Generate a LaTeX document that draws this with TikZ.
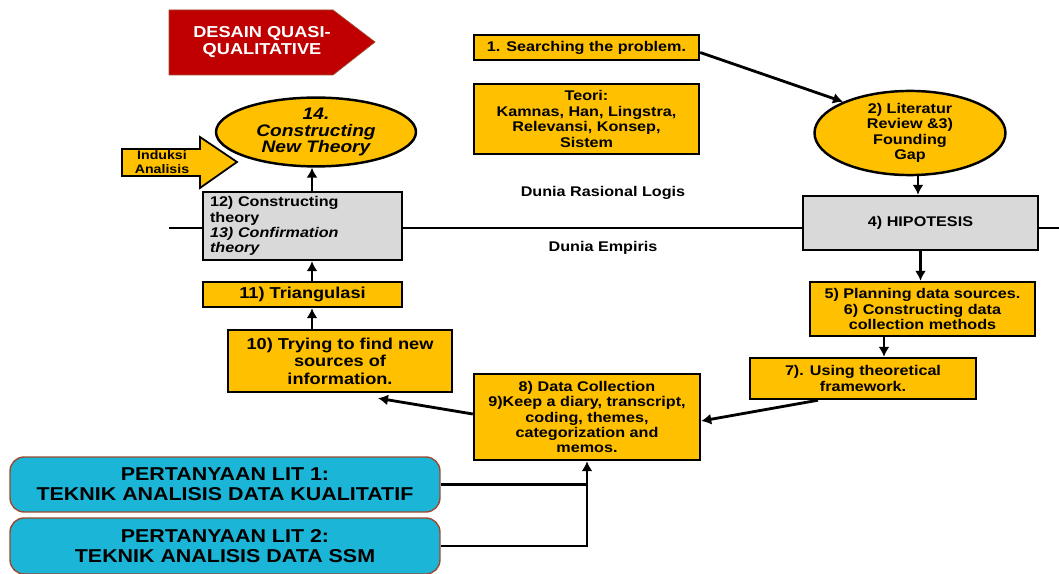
\documentclass[tikz,border=0pt]{standalone}
\usepackage{fontspec}
\setmainfont{Liberation Sans}[FakeStretch=1.15]
\usetikzlibrary{arrows.meta}
\usetikzlibrary{shapes.geometric}
\definecolor{kuning}{HTML}{FFC000}
\definecolor{abu}{HTML}{D9D9D9}
\definecolor{merah}{HTML}{C00000}
\definecolor{biru}{HTML}{1BB6D7}
\definecolor{coklat}{HTML}{9C4A2F}

\begin{document}
\begin{tikzpicture}[x=0.02cm, y=-0.02cm, >={Latex[length=2mm,width=2.2mm]},
	kotak/.style={draw, line width=1.4pt, fill=kuning, align=center, inner sep=1pt,
		font=\fontsize{8}{8.8}\selectfont\bfseries},
	kotakabu/.style={kotak, fill=abu},
	elips/.style={kotak, ellipse, inner sep=0pt},
	tanya/.style={draw=coklat, line width=0.8pt, fill=biru, rounded corners=8pt, align=center,
		minimum width=8.6cm, font=\fontsize{10.6}{11.4}\selectfont\bfseries},
	panah/.style={line width=1.6pt, ->},
	label/.style={font=\fontsize{8}{9}\selectfont\bfseries}]
	\useasboundingbox (0,0) rectangle (1059,574);
	%\draw[step=1cm,gray,very thin] (0,0) grid (1059,574);

	% garis pemisah dunia
	\draw[line width=1pt] (169,228) -- (1059,228);
	\node[label] (rasional) at (603,193) {Dunia Rasional Logis};
	\node[label] (empiris) at (603,248) {Dunia Empiris};

	% judul
	\draw[fill=merah, draw=coklat] (169,10) -- (333,10) -- (375,42) -- (333,75) -- (169,75) -- cycle;
	\node[align=center, text=white, font=\fontsize{9}{9.8}\selectfont\bfseries] (judul) at (262,42)
		{DESAIN QUASI-\\QUALITATIVE};

	% induksi
	\draw[fill=kuning, line width=1pt] (122,149) -- (200,149) -- (200,137) -- (237,162)
		-- (200,188) -- (200,176) -- (122,176) -- cycle;
	\node[align=center, font=\fontsize{7}{7.6}\selectfont\bfseries] (induksi) at (162,162)
		{Induksi\\Analisis};

	% kotak-kotak
	\node[kotak, minimum width=4.5cm, minimum height=0.5cm] (cari) at (586.5,47.5)
		{1. Searching the problem.};
	\node[kotak, minimum width=4.5cm, minimum height=1.4cm] (teori) at (586.5,119)
		{Teori:\\Kamnas, Han, Lingstra,\\Relevansi, Konsep,\\Sistem};
	\node[elips, minimum width=3.82cm, minimum height=1.5cm] (lit) at (910,133)
		{2) Literatur\\Review \&3)\\Founding\\Gap};
	\node[kotakabu, minimum width=4.7cm, minimum height=1.08cm] (hip) at (920.5,223)
		{4) HIPOTESIS};
	\node[kotak, minimum width=4.5cm, minimum height=1.08cm] (rencana) at (922.5,309)
		{5) Planning data sources.\\6) Constructing data\\collection methods};
	\node[kotak, minimum width=4.52cm, minimum height=0.82cm] (kerangka) at (863,378.5)
		{7). Using theoretical\\framework.};
	\node[kotak, minimum width=4.52cm, minimum height=1.72cm] (kumpul) at (587,417)
		{8) Data Collection\\9)Keep a diary, transcript,\\coding, themes,\\categorization and\\memos.};
	\node[kotak, minimum width=4.48cm, minimum height=1.24cm,
		font=\fontsize{9}{9.9}\selectfont\bfseries] (sumber) at (340,361)
		{10) Trying to find new\\sources of\\information.};
	\node[kotak, minimum width=3.98cm, minimum height=0.5cm,
		font=\fontsize{9}{9.9}\selectfont\bfseries] (triang) at (302.5,294.5)
		{11) Triangulasi};
	\node[kotakabu, minimum height=1.36cm, text width=3.7cm, inner xsep=4pt, align=left,
		font=\fontsize{8}{8.6}\selectfont\bfseries] (bangun) at (302.5,226)
		{12) Constructing\\theory\\\textit{13) Confirmation}\\\textit{theory}};
	\node[elips, minimum width=4cm, minimum height=1.36cm,
		font=\fontsize{9.5}{9.6}\selectfont\bfseries\itshape] (baru) at (316,132)
		{14.\\Constructing\\New Theory};
	\node[tanya, minimum height=1.1cm] (lit1) at (225,484.5)
		{PERTANYAAN LIT 1:\\TEKNIK ANALISIS DATA KUALITATIF};
	\node[tanya, minimum height=1.12cm] (lit2) at (225,546)
		{PERTANYAAN LIT 2:\\TEKNIK ANALISIS DATA SSM};

	% panah
	\draw[panah] ([yshift=-0.1cm]cari.east) -- (lit.155);
	\draw[panah] ([xshift=0.16cm]lit.south) -- ([xshift=0.16cm]lit.south |- hip.north);
	\draw[panah] (hip.south) -- (hip.south |- rencana.north);
	\draw[panah] ([xshift=0.42cm]kerangka.north |- rencana.south) -- ([xshift=0.42cm]kerangka.north);
	\draw[panah] ([xshift=-0.9cm]kerangka.south) -- ([yshift=-0.08cm]kumpul.east);
	\draw[panah] ([yshift=0.06cm]kumpul.west) -- ([shift={(0.76cm,-0.1cm)}]sumber.south);
	\draw[panah] ([xshift=0.19cm]triang.south |- sumber.north) -- ([xshift=0.19cm]triang.south);
	\draw[panah] ([xshift=0.19cm]triang.north) -- ([xshift=0.19cm]triang.north |- bangun.south);
	\draw[panah] ([xshift=0.19cm]bangun.north) -- ([xshift=0.19cm]bangun.north |- baru.south);
	\draw[line width=1.4pt] (lit1.east) -- (lit1.east -| kumpul.south);
	\draw[panah] (lit2.east) -| (kumpul.south);
\end{tikzpicture}
\end{document}
